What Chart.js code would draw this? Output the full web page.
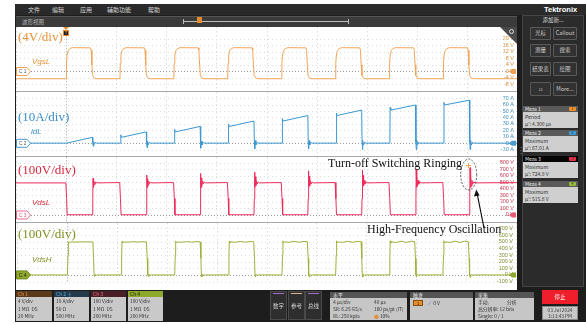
<!DOCTYPE html>
<html>
<head>
<meta charset="utf-8">
<script src="https://cdn.jsdelivr.net/npm/chart.js@4.4.1/dist/chart.umd.min.js"></script>
<style>
*{box-sizing:border-box;margin:0;padding:0}
body{width:586px;height:324px;overflow:hidden;background:#fff;position:relative;font-family:'Noto Sans CJK SC','Liberation Sans',sans-serif}
.a{position:absolute}
#frame{left:15px;top:4px;width:571px;height:318px;background:#1d1d1d}
#menu{left:15px;top:4px;width:571px;height:11px;background:#2a2a2a;color:#d6d6d6;font-size:6px;line-height:11px}
#menu span{position:absolute;top:0}
#titlebar{left:16px;top:16px;width:501px;height:11px;background:#3b3b3b;border-top:1px solid #555;color:#b4b4b4;font-size:5.5px;line-height:10px}
#plot{left:16px;top:27px;width:501px;height:263px;background:#fff}
canvas{position:absolute;left:16px}
.sep{left:16px;width:501px;height:1px;background:#a8a8a8}
.unit{font-family:'Liberation Serif','DejaVu Serif',serif;font-size:13px;line-height:13px;white-space:nowrap}
.sig{font-family:'Liberation Sans',Arial,sans-serif;font-style:italic;font-size:8px;line-height:8px}
.note{font-family:'Liberation Serif','DejaVu Serif',serif;font-size:12px;line-height:12px;color:#111;white-space:nowrap}
.rp{left:522px;top:15px;width:62px;height:272px;background:#2b2b2b;border:1px solid #454545}
.btn{background:#323232;border:1px solid #5a5a5a;border-radius:1px;color:#cfcfcf;font-size:5.5px;text-align:center}
.mh{left:523px;width:55px;height:6px;background:#5a5a5a;color:#eee;font-size:5px;line-height:6px;padding-left:2px}
.mb{left:523px;width:55px;height:16px;background:#cfcfcf;color:#333;font-size:5px;line-height:7px;padding:1px 2px}
.badge{position:absolute;right:2px;top:1px;width:7px;height:4px;border-radius:1px;font-size:3.5px;line-height:4px;text-align:center;color:#222}
.chh{top:291px;height:6px;font-size:5px;line-height:6px;padding-left:2px}
.chb{top:297px;height:24px;background:#c9c9c9;color:#333;font-size:4.8px;line-height:7.5px;padding:0 2px}
.bb{top:291px;height:29px;background:#2e2e2e;border:1px solid #4a4a4a;color:#d6d6d6;font-size:5.5px;text-align:center;line-height:29px}
.ph{top:292px;height:6px;background:#555;color:#e8e8e8;font-size:5px;line-height:6px;padding-left:3px}
.pb{top:298px;height:22px;background:#c6c6c6;color:#333;font-size:4.8px;line-height:7px;padding:0 3px}
</style>
</head>
<body>
<div id="frame" class="a"></div>
<div id="menu" class="a">
  <span style="left:13px">文件</span><span style="left:37px">编辑</span><span style="left:65px">应用</span><span style="left:92px">辅助功能</span><span style="left:133px">帮助</span>
</div>
<div class="a" style="left:544px;top:4px;color:#fff;font:bold 7.5px/11px 'Liberation Sans',Arial,sans-serif">Tektronix</div>
<div id="titlebar" class="a"><span style="margin-left:6px">波形视图</span></div>
<!-- record-length bracket in the title bar -->
<div class="a" style="left:183px;top:21px;width:166px;height:1px;background:#bdbdbd"></div>
<div class="a" style="left:183px;top:19px;width:1px;height:5px;background:#bdbdbd"></div>
<div class="a" style="left:348px;top:19px;width:1px;height:5px;background:#bdbdbd"></div>
<div class="a" style="left:197px;top:17px;width:5px;height:6px;background:#e58d2c"></div>

<div id="plot" class="a"></div>
<canvas id="c1" width="501" height="64" style="top:27px"></canvas>
<canvas id="c2" width="501" height="64" style="top:92px"></canvas>
<canvas id="c3" width="501" height="65" style="top:157px"></canvas>
<canvas id="c4" width="501" height="67" style="top:223px"></canvas>
<div class="a sep" style="top:91px"></div>
<div class="a sep" style="top:156px"></div>
<div class="a sep" style="top:222px"></div>

<!-- trigger marker -->
<div class="a" style="left:63px;top:27px;width:6px;height:3px;background:#e58d2c;clip-path:polygon(0 0,100% 0,50% 100%)"></div>
<div class="a" style="left:63px;top:30px;width:6px;height:6px;background:#1d1d1d;border:1px solid #e58d2c;color:#e58d2c;font:bold 4px/4px sans-serif;text-align:center">T</div>

<!-- zoom corner -->
<div class="a" style="left:500px;top:27px;width:17px;height:17px;background:#4a4a4a;clip-path:polygon(0 0,100% 0,100% 100%)"></div>
<div class="a" style="left:509px;top:29px;width:5px;height:5px;border:1px solid #ddd;border-radius:50%"></div>

<!-- channel level markers -->
<svg class="a" style="left:16px;top:0" width="20" height="324">
  <polygon points="0.5,67.5 11,67.5 14.5,71.5 11,75.5 0.5,75.5" fill="#fff" stroke="#f0a050"/>
  <text x="3" y="73.3" font-size="4.8" font-family="Liberation Sans" fill="#555">C 1</text>
  <polygon points="0.5,139.3 11,139.3 14.5,143.3 11,147.3 0.5,147.3" fill="#fff" stroke="#4a9ad0"/>
  <text x="3" y="145.1" font-size="4.8" font-family="Liberation Sans" fill="#555">C 2</text>
  <polygon points="0.5,211 11,211 14.5,215 11,219 0.5,219" fill="#fff" stroke="#ec6d8a"/>
  <text x="3" y="216.8" font-size="4.8" font-family="Liberation Sans" fill="#e05070">C 3</text>
  <polygon points="0.5,270.9 11,270.9 14.5,274.9 11,278.9 0.5,278.9" fill="#8ea82c" stroke="#6f8820"/>
  <text x="3" y="276.7" font-size="4.8" font-family="Liberation Sans" fill="#222">C 4</text>
</svg>
<svg class="a" style="left:508px;top:0" width="9" height="324">
  <polygon points="1,71.5 4,69 8,69 8,74 4,74" fill="#f0a050"/>
  <polygon points="1,143.3 4,140.8 8,140.8 8,145.8 4,145.8" fill="#4a9ad0"/>
  <polygon points="1,215 4,212.5 8,212.5 8,217.5 4,217.5" fill="#ec5a7a"/>
  <polygon points="1,274.9 4,272.4 8,272.4 8,277.4 4,277.4" fill="#8ea82c"/>
</svg>

<!-- scale and signal names -->
<div class="a unit" style="left:18px;top:30px;color:#e8923a">(4V/div)</div>
<div class="a sig" style="left:32px;top:58px;color:#e8923a">VgsL</div>
<div class="a unit" style="left:18px;top:110px;color:#3b8fc7">(10A/div)</div>
<div class="a sig" style="left:31px;top:128px;color:#3b8fc7">idL</div>
<div class="a unit" style="left:18px;top:163px;color:#d62a40">(100V/div)</div>
<div class="a sig" style="left:32px;top:199px;color:#d62a40">VdsL</div>
<div class="a unit" style="left:18px;top:227px;color:#7f9224">(100V/div)</div>
<div class="a sig" style="left:32px;top:256px;color:#7f9224">VdsH</div>

<div class="a note" style="left:328px;top:157px">Turn-off Switching Ringing</div>
<div class="a note" style="left:367px;top:223px">High-Frequency Oscillation</div>
<svg class="a" style="left:0;top:0" width="586" height="324">
  <ellipse cx="468.7" cy="174.5" rx="8" ry="15.5" fill="none" stroke="#333" stroke-width="0.8" stroke-dasharray="2,1.5"/>
  <path d="M466 165.5h5M468.5 163v5" stroke="#f0a050" stroke-width="1"/>
  <line x1="484" y1="228" x2="477" y2="193" stroke="#111" stroke-width="1.2"/>
  <polygon points="476.3,189.5 473.9,196.5 479.6,195.4" fill="#111"/>
</svg>

<!-- right side panel -->
<div class="a" style="left:518px;top:146px;color:#777;font-size:6px;line-height:3px">·<br>·<br>·</div>
<div class="a rp"></div>
<div class="a" style="left:522px;top:16px;width:62px;text-align:center;color:#ddd;font-size:5.5px;line-height:9px">添加新...</div>
<div class="a btn" style="left:530px;top:27px;width:21px;height:13px;line-height:11px">光标</div>
<div class="a btn" style="left:553px;top:27px;width:24px;height:13px;line-height:11px">Callout</div>
<div class="a btn" style="left:530px;top:44px;width:21px;height:13px;line-height:11px">测量</div>
<div class="a btn" style="left:553px;top:44px;width:24px;height:13px;line-height:11px">搜索</div>
<div class="a btn" style="left:530px;top:62px;width:21px;height:14px;line-height:12px">结果表</div>
<div class="a btn" style="left:553px;top:62px;width:24px;height:14px;line-height:12px">绘图</div>
<div class="a btn" style="left:530px;top:82px;width:21px;height:14px;line-height:12px">⩍</div>
<div class="a btn" style="left:553px;top:82px;width:24px;height:14px;line-height:12px">More...</div>

<div class="a mh" style="top:106px">Meas 1<span class="badge" style="background:#f0902a">1</span></div>
<div class="a mb" style="top:112px">Period<br>μ': 4.300 µs</div>
<div class="a mh" style="top:130px">Meas 2<span class="badge" style="background:#3c9ad6">2</span></div>
<div class="a mb" style="top:136px">Maximum<br>μ': 67.01 A</div>
<div class="a mh" style="top:156px;background:#050505">Meas 3<span class="badge" style="background:#e8304a">3</span></div>
<div class="a mb" style="top:162px">Maximum<br>μ': 724.9 V</div>
<div class="a mh" style="top:181px">Meas 4<span class="badge" style="background:#9ab83a">4</span></div>
<div class="a mb" style="top:187px">Maximum<br>μ': 515.8 V</div>

<!-- bottom bar -->
<div class="a chh" style="left:16px;width:36px;background:#5b3a1c;color:#f0a050">Ch 1</div>
<div class="a chb" style="left:16px;width:36px">4 V/div<br>1 MΩ &nbsp;DS<br>20 MHz</div>
<div class="a chh" style="left:54px;width:35px;background:#223a4b;color:#5aaee0">Ch 2 ⏚</div>
<div class="a chb" style="left:54px;width:35px">10 A/div<br>50 Ω<br>500 MHz</div>
<div class="a chh" style="left:91px;width:35px;background:#4c1f27;color:#f07890">Ch 3</div>
<div class="a chb" style="left:91px;width:35px">100 V/div<br>1 MΩ &nbsp;DS<br>200 MHz</div>
<div class="a chh" style="left:128px;width:35px;background:#8ea82c;color:#1d1d1d">Ch 4</div>
<div class="a chb" style="left:128px;width:35px">100 V/div<br>1 MΩ &nbsp;DS<br>200 MHz</div>

<div class="a bb" style="left:270px;width:17px">数字</div>
<div class="a" style="left:273px;top:293px;width:11px;height:1px;background:#a070c8"></div>
<div class="a bb" style="left:288px;width:17px">参考</div>
<div class="a" style="left:291px;top:293px;width:11px;height:1px;background:#d8b890"></div>
<div class="a bb" style="left:305px;width:17px">总线</div>
<div class="a" style="left:308px;top:293px;width:11px;height:1px;background:#a070d0"></div>

<div class="a ph" style="left:330px;width:77px">水平</div>
<div class="a pb" style="left:330px;width:77px">4 µs/div<span style="position:absolute;left:44px">40 µs</span><br>SR: 6.25 GS/s<span style="position:absolute;left:44px">160 ps/pt (IT)</span><br>RL: 250 kpts<span style="position:absolute;left:44px"><span style="color:#e58d2c">●</span> 10%</span></div>
<div class="a ph" style="left:410px;width:63px">触发</div>
<div class="a pb" style="left:410px;width:63px"></div>
<div class="a" style="left:413px;top:300px;width:10px;height:6px;background:#e58d2c;border:1px solid #8a4d10;font-size:4px;line-height:4px;text-align:center;color:#222">1</div>
<div class="a" style="left:428px;top:299px;font-size:5px;line-height:8px;color:#3a6fb0">⟋ <span style="color:#333">0 V</span></div>
<div class="a ph" style="left:475px;width:59px">采集</div>
<div class="a pb" style="left:475px;width:59px">手动,<span style="position:absolute;left:32px">分析</span><br>高分辨率: 12 bits<br>Single: 0 / 1</div>

<div class="a" style="left:542px;top:290px;width:36px;height:14px;background:#ee1f2b;color:#fff;font-size:5.5px;line-height:14px;text-align:center">停止</div>
<div class="a" style="left:542px;top:306px;width:36px;height:14px;background:#c9c9c9;border:1px solid #888;color:#333;font-size:4.8px;line-height:6px;text-align:center">03 Jul 2024<br>3:11:43 PM</div>

<script>
// Horizontal axis: 4 µs/div, trigger at 10 % of the record
const timeTicks = [-4, 0, 4, 8, 12, 16, 20, 24, 28, 32, 36];
const timeTickLabels = ['', '0 s', '4 µs', '8 µs', '12 µs', '16 µs', '20 µs', '24 µs', '28 µs', '32 µs', ''];

// Vertical graticule labels for each channel slice
const vgsTicks = [-8, -4, 0, 4, 8, 12, 16, 20];
const vgsTickLabels = ['-8 V', '-4 V', '0 V', '4 V', '8 V', '12 V', '16 V', '20 V'];
const idTicks = [-10, 0, 10, 20, 30, 40, 50, 60, 70];
const idTickLabels = ['-10 A', '0 A', '10 A', '20 A', '30 A', '40 A', '50 A', '60 A', '70 A'];
const vdsLTicks = [0, 100, 200, 300, 400, 500, 600, 700, 800];
const vdsLTickLabels = ['0 V', '100 V', '200 V', '300 V', '400 V', '500 V', '600 V', '700 V', '800 V'];
const vdsHTicks = [-100, 0, 100, 200, 300, 400, 500, 600, 700];
const vdsHTickLabels = ['-100 V', '0 V', '100 V', '200 V', '300 V', '400 V', '500 V', '600 V', '700 V'];

// Ch1 low-side gate voltage [µs, V]
const vgsL = [
  [-4,-4.5],[0,-4.5],[0.03,5],[0.08,10],[0.16,12.6],[0.3,14],[0.5,14.5],[1.95,14.4],[2.0,13],[2.06,4],[2.12,-2.5],[2.25,-4.2],[2.45,-4.5],
  [4.3,-4.5],[4.33,5],[4.38,10],[4.46,12.6],[4.6,14],[4.8,14.5],[6.25,14.4],[6.3,13],[6.36,4],[6.42,-2.5],[6.55,-4.2],[6.75,-4.5],
  [8.6,-4.5],[8.63,5],[8.68,10],[8.76,12.6],[8.9,14],[9.1,14.5],[10.55,14.4],[10.6,13],[10.66,4],[10.72,-2.5],[10.85,-4.2],[11.05,-4.5],
  [12.9,-4.5],[12.93,5],[12.98,10],[13.06,12.6],[13.2,14],[13.4,14.5],[14.85,14.4],[14.9,13],[14.96,4],[15.02,-2.5],[15.15,-4.2],[15.35,-4.5],
  [17.2,-4.5],[17.23,5],[17.28,10],[17.36,12.6],[17.5,14],[17.7,14.5],[19.15,14.4],[19.2,13],[19.26,4],[19.32,-2.5],[19.45,-4.2],[19.65,-4.5],
  [21.5,-4.5],[21.53,5],[21.58,10],[21.66,12.6],[21.8,14],[22.0,14.5],[23.45,14.4],[23.5,13],[23.56,4],[23.62,-2.5],[23.75,-4.2],[23.95,-4.5],
  [25.8,-4.5],[25.83,5],[25.88,10],[25.96,12.6],[26.1,14],[26.3,14.5],[27.75,14.4],[27.8,13],[27.86,4],[27.92,-2.5],[28.05,-4.2],[28.25,-4.5],
  [30.1,-4.5],[30.13,5],[30.18,10],[30.26,12.6],[30.4,14],[30.6,14.5],[32.05,14.4],[32.1,13],[32.16,4],[32.22,-2.5],[32.35,-4.2],[32.55,-4.5],
  [36,-4.5]
];

// Ch2 low-side drain current [µs, A]
const idL = [
  [-4,0],[0.05,0],[2.1,9],[2.13,1],[2.16,-5],[2.2,2],[2.25,-2],[2.32,1],[2.45,0],
  [4.35,0],[4.37,13],[4.42,9],[6.4,17.5],[6.43,1],[6.46,-7],[6.5,3],[6.55,-3],[6.62,1],[6.75,0],
  [8.65,0],[8.67,21.5],[8.72,17.5],[10.7,26],[10.73,1],[10.76,-8],[10.8,3],[10.85,-3],[10.92,1],[11.05,0],
  [12.95,0],[12.97,30],[13.02,26],[15.0,34.5],[15.03,1],[15.06,-9],[15.1,4],[15.15,-3],[15.22,1],[15.35,0],
  [17.25,0],[17.27,38.5],[17.32,34.5],[19.3,43],[19.33,1],[19.36,-9],[19.4,4],[19.45,-3],[19.52,1],[19.65,0],
  [21.55,0],[21.57,47],[21.62,43],[23.6,51.5],[23.63,1],[23.66,-10],[23.7,4],[23.75,-3],[23.82,1],[23.95,0],
  [25.85,0],[25.87,55.5],[25.92,51.5],[27.9,59.5],[27.93,1],[27.96,-10],[28.0,4],[28.05,-3],[28.12,1],[28.25,0],
  [30.15,0],[30.17,63.5],[30.22,59.5],[32.2,67.01],[32.23,1],[32.26,-10],[32.3,4],[32.35,-3],[32.42,1],[32.55,0],
  [36,0]
];

// Ch3 low-side drain-source voltage [µs, V]
const vdsL = [
  [-4,490],[-0.02,490],[0.04,250],[0.09,0],
  [2.1,0],[2.13,250],[2.15,560],[2.18,420],[2.21,520],[2.25,460],[2.3,510],[2.36,480],[2.44,498],[2.55,490],[3.3,493],[4.28,495],[4.34,250],[4.39,0],
  [6.4,0],[6.43,250],[6.45,610],[6.48,420],[6.51,555],[6.55,455],[6.6,515],[6.66,478],[6.74,500],[6.85,490],[7.6,493],[8.58,495],[8.64,250],[8.69,0],
  [10.7,0],[10.73,250],[10.75,635],[10.78,420],[10.81,570],[10.85,450],[10.9,520],[10.96,475],[11.04,502],[11.15,490],[11.9,493],[12.88,495],[12.94,250],[12.99,0],
  [15.0,0],[15.03,250],[15.05,655],[15.08,420],[15.11,585],[15.15,448],[15.2,522],[15.26,474],[15.34,503],[15.45,490],[16.2,493],[17.18,495],[17.24,250],[17.29,0],
  [19.3,0],[19.33,250],[19.35,675],[19.38,420],[19.41,595],[19.45,445],[19.5,525],[19.56,472],[19.64,504],[19.75,490],[20.5,493],[21.48,495],[21.54,250],[21.59,0],
  [23.6,0],[23.63,250],[23.65,690],[23.68,420],[23.71,605],[23.75,442],[23.8,527],[23.86,471],[23.94,505],[24.05,490],[24.8,493],[25.78,495],[25.84,250],[25.89,0],
  [27.9,0],[27.93,250],[27.95,705],[27.98,420],[28.01,615],[28.05,440],[28.1,528],[28.16,470],[28.24,506],[28.35,490],[29.1,493],[30.08,495],[30.14,250],[30.19,0],
  [32.2,0],[32.23,250],[32.25,724.9],[32.28,420],[32.31,625],[32.35,438],[32.4,530],[32.46,470],[32.54,507],[32.65,490],[34,493],[36,494]
];

// Ch4 high-side drain-source voltage [µs, V]
const vdsH = [
  [-4,0],[0.04,0],[0.09,300],[0.12,500],[0.17,488],[0.25,495],[1.0,497],[1.8,498],[2.08,496],[2.14,250],[2.18,0],[2.22,-20],[2.28,8],[2.36,-4],[2.5,0],
  [4.34,0],[4.39,300],[4.42,505],[4.47,486],[4.55,495],[4.9,494],[5.3,500],[5.7,495],[6.1,500],[6.38,497],[6.44,250],[6.48,0],[6.52,-25],[6.58,10],[6.66,-5],[6.8,0],
  [8.64,0],[8.69,300],[8.72,508],[8.77,485],[8.85,496],[9.2,493],[9.6,502],[10.0,494],[10.4,502],[10.68,498],[10.74,250],[10.78,0],[10.82,-28],[10.88,10],[10.96,-5],[11.1,0],
  [12.94,0],[12.99,300],[13.02,510],[13.07,484],[13.15,496],[13.5,492],[13.9,504],[14.3,493],[14.7,504],[14.98,499],[15.04,250],[15.08,0],[15.12,-30],[15.18,10],[15.26,-5],[15.4,0],
  [17.24,0],[17.29,300],[17.32,512],[17.37,483],[17.45,497],[17.8,491],[18.2,506],[18.6,492],[19.0,506],[19.28,500],[19.34,250],[19.38,0],[19.42,-30],[19.48,10],[19.56,-5],[19.7,0],
  [21.54,0],[21.59,300],[21.62,513],[21.67,482],[21.75,497],[22.1,490],[22.5,507],[22.9,491],[23.3,507],[23.58,500],[23.64,250],[23.68,0],[23.72,-32],[23.78,10],[23.86,-5],[24.0,0],
  [25.84,0],[25.89,300],[25.92,514],[25.97,481],[26.05,497],[26.4,489],[26.8,508],[27.2,490],[27.6,508],[27.88,501],[27.94,250],[27.98,0],[28.02,-33],[28.08,10],[28.16,-5],[28.3,0],
  [30.14,0],[30.19,300],[30.22,515.8],[30.27,480],[30.35,497],[30.7,488],[31.1,509],[31.5,489],[31.9,509],[32.18,501],[32.24,250],[32.28,0],[32.32,-35],[32.38,10],[32.46,-5],[32.6,0],
  [36,0]
];

// Dotted oscilloscope graticule, placed on the scale ticks
const dottedGraticule = {
  id: 'dottedGraticule',
  beforeDatasetsDraw(chart) {
    const { ctx, chartArea: a, scales: { x, y } } = chart;
    ctx.save();
    ctx.lineWidth = 1;
    x.ticks.forEach(t => {
      const px = Math.round(x.getPixelForValue(t.value)) + 0.5;
      ctx.strokeStyle = t.value === 0 ? '#a2a2a2' : '#d0d0d0';
      ctx.setLineDash(t.value === 0 ? [1, 2] : [1, 3]);
      ctx.beginPath(); ctx.moveTo(px, a.top); ctx.lineTo(px, a.bottom); ctx.stroke();
    });
    y.ticks.forEach(t => {
      const py = Math.round(y.getPixelForValue(t.value)) + 0.5;
      ctx.strokeStyle = t.value === 0 ? '#9a9a9a' : '#dddddd';
      ctx.setLineDash(t.value === 0 ? [1, 2] : [1, 3]);
      ctx.beginPath(); ctx.moveTo(a.left, py); ctx.lineTo(a.right, py); ctx.stroke();
    });
    ctx.restore();
  }
};

function slice(canvasId, series, lineColor, labelColor, yMin, yMax, ticks, tickLabels, showTime) {
  return new Chart(document.getElementById(canvasId), {
    type: 'line',
    data: {
      datasets: [{
        data: series.map(p => ({ x: p[0], y: p[1] })),
        borderColor: lineColor,
        borderWidth: 1,
        pointRadius: 0,
        tension: 0,
        fill: false
      }]
    },
    plugins: [dottedGraticule],
    options: {
      responsive: false,
      animation: false,
      events: [],
      layout: { padding: 0 },
      plugins: { legend: { display: false }, tooltip: { enabled: false } },
      scales: {
        x: {
          type: 'linear',
          min: -4,
          max: 36,
          afterBuildTicks: s => { s.ticks = timeTicks.map(v => ({ value: v })); },
          afterFit: s => { s.height = showTime ? 7 : 0; },
          border: { display: false },
          grid: { display: false },
          ticks: {
            display: showTime,
            padding: 1,
            autoSkip: false,
            maxRotation: 0,
            color: '#555',
            font: { size: 5.5, family: 'Liberation Sans' },
            callback: (v, i) => timeTickLabels[i]
          }
        },
        y: {
          position: 'right',
          min: yMin,
          max: yMax,
          afterBuildTicks: s => { s.ticks = ticks.map(v => ({ value: v })); },
          afterFit: s => { s.width = 0; },
          border: { display: false },
          grid: { display: false },
          ticks: {
            mirror: true,
            padding: -3,
            autoSkip: false,
            color: labelColor,
            font: { size: 5.5, family: 'Liberation Sans' },
            callback: (v, i) => tickLabels[i]
          }
        }
      }
    }
  });
}

slice('c1', vgsL, '#f2a55a', '#d98a30', -11.82, 26.97, vgsTicks, vgsTickLabels, false);
slice('c2', idL, '#3d98d0', '#3a8cc0', -19.63, 79.29, idTicks, idTickLabels, false);
slice('c3', vdsL, '#ee2c5c', '#c8324a', -106.7, 884.1, vdsLTicks, vdsLTickLabels, false);
slice('c4', vdsH, '#9cb23a', '#7c8e28', -121.3, 777.5, vdsHTicks, vdsHTickLabels, true);
</script>
</body>
</html>
